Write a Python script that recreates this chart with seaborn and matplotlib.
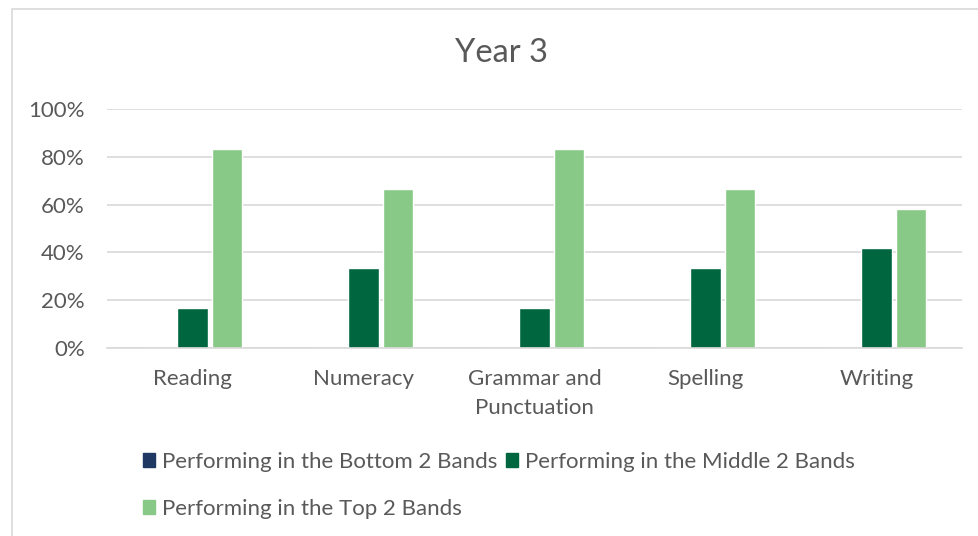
import matplotlib
matplotlib.use("Agg")
import matplotlib.pyplot as plt
import seaborn as sns
import pandas as pd
from matplotlib.patches import Rectangle
from matplotlib.ticker import PercentFormatter

categories = ["Reading", "Numeracy", "Grammar and\nPunctuation", "Spelling", "Writing"]
series = ["Performing in the Bottom 2 Bands", "Performing in the Middle 2 Bands", "Performing in the Top 2 Bands"]
bottom_vals = [0.0, 0.0, 0.0, 0.0, 0.0]
middle_vals = [0.167, 0.333, 0.167, 0.333, 0.417]
top_vals = [0.833, 0.667, 0.833, 0.667, 0.583]
colors = ["#1F3864", "#006640", "#88C987"]

rows = []
for s, vals in zip(series, [bottom_vals, middle_vals, top_vals]):
    for c, v in zip(categories, vals):
        rows.append({"cat": c, "series": s, "value": v})
df = pd.DataFrame(rows)

sns.set_theme(style="white")
plt.rcParams["font.family"] = ["Lato", "DejaVu Sans"]
txt = "#595959"
fs = 16

fig = plt.figure(figsize=(9.79, 5.36), dpi=100)
W, H = 979, 536
ax = fig.add_axes([107 / W, 1 - 348 / H, (962 - 107) / W, (348 - 109) / H])

sns.barplot(data=df, x="cat", y="value", hue="series", palette=colors,
            width=0.6, gap=0.12, ax=ax, legend=False, saturation=1)

ax.set_ylim(0, 1)
ax.set_xlim(-0.5, 4.5)
ax.set_yticks([0, 0.2, 0.4, 0.6, 0.8, 1.0])
ax.yaxis.set_major_formatter(PercentFormatter(1.0, decimals=0))
ax.grid(axis="y", color="#D9D9D9", linewidth=1.2)
ax.set_axisbelow(True)
for sp in ["top", "right", "left"]:
    ax.spines[sp].set_visible(False)
ax.spines["bottom"].set_color("#D9D9D9")
ax.spines["bottom"].set_linewidth(1.2)
ax.set_xlabel("")
ax.set_ylabel("")
ax.tick_params(axis="both", length=0, colors=txt, labelsize=fs)
ax.tick_params(axis="y", pad=16)
ax.tick_params(axis="x", pad=15)
for lab in ax.get_xticklabels():
    lab.set_linespacing(1.55)

fig.text(502 / W, 1 - 53 / H, "Year 3", ha="center", va="center", fontsize=23.5, color=txt)

order = [0, 2, 1]
handles = [Rectangle((0, 0), 1, 1, color=colors[i]) for i in order]
labels = [series[i] for i in order]
fig.legend(handles, labels, ncol=2, loc="upper left",
           bbox_to_anchor=(143 / W, 1 - 452 / H), frameon=False,
           fontsize=fs, labelcolor=txt, handlelength=0.55, handleheight=0.55,
           handletextpad=0.3, columnspacing=0.4, labelspacing=1.2,
           borderaxespad=0, borderpad=0)

fig.patches.append(Rectangle((12 / W, -0.1), 1.2, 1 - 9 / H + 0.1,
                             transform=fig.transFigure, fill=False,
                             edgecolor="#D9D9D9", linewidth=1.2))

fig.savefig("out.png", dpi=100, facecolor="white")
